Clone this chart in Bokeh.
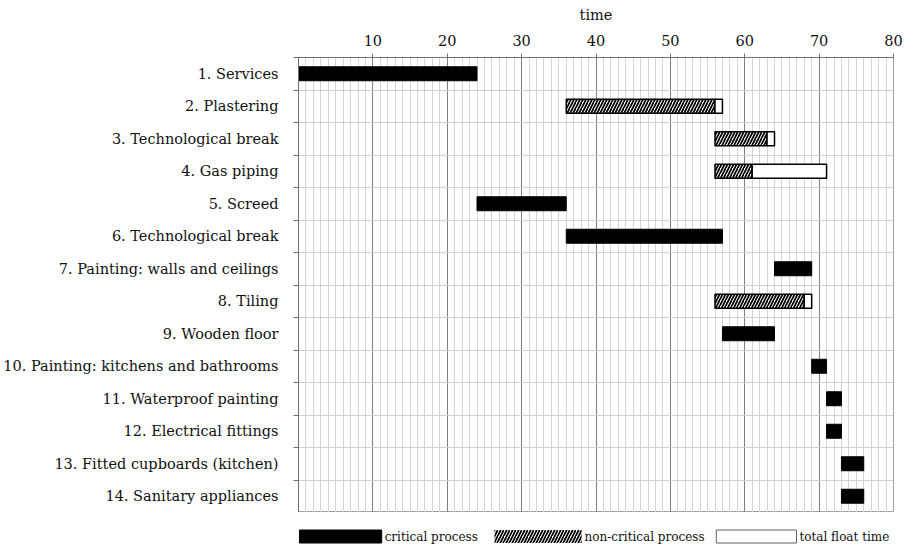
from bokeh.plotting import figure
from bokeh.models import Range1d, FixedTicker
from bokeh.layouts import column
from bokeh.core.properties import value
from bokeh.embed import file_html
from bokeh.resources import INLINE

# ---- data ----
tasks = [
    "1. Services",
    "2. Plastering",
    "3. Technological break",
    "4. Gas piping",
    "5. Screed",
    "6. Technological break",
    "7. Painting: walls and ceilings",
    "8. Tiling",
    "9. Wooden floor",
    "10. Painting: kitchens and bathrooms",
    "11. Waterproof painting",
    "12. Electrical fittings",
    "13. Fitted cupboards (kitchen)",
    "14. Sanitary appliances",
]
start = [0, 36, 56, 56, 24, 36, 64, 56, 57, 69, 71, 71, 73, 73]
duration = [24, 20, 7, 5, 12, 21, 5, 12, 7, 2, 2, 2, 3, 3]
is_critical = [True, False, False, False, True, True, True, False, True, True, True, True, True, True]
total_float = [0, 1, 1, 10, 0, 0, 0, 1, 0, 0, 0, 0, 0, 0]
x_ticks = [10, 20, 30, 40, 50, 60, 70, 80]
legend_labels = ["critical process", "non-critical process", "total float time"]

FONT = "DejaVu Serif"
FS = "14.5px"
TXT = "#111111"
rows = list(range(1, len(tasks) + 1))
end = [s + d for s, d in zip(start, duration)]

crit = {"y": [], "left": [], "right": []}
noncrit = {"y": [], "left": [], "right": []}
flt = {"y": [], "left": [], "right": []}
for r, s, e, c, f in zip(rows, start, end, is_critical, total_float):
    target = crit if c else noncrit
    target["y"].append(r); target["left"].append(s); target["right"].append(e)
    if f > 0:
        flt["y"].append(r); flt["left"].append(e); flt["right"].append(e + f)

BL, BR = 292, 10
p = figure(width=903, height=512, x_range=Range1d(0, 80), y_range=Range1d(14.5, 0.5),
           x_axis_location="above", output_backend="svg", toolbar_location=None,
           min_border_left=BL, min_border_right=BR, min_border_top=57, min_border_bottom=0)
p.outline_line_color = "#a0a0a0"
p.background_fill_color = "white"

# x axis
xa = p.xaxis[0]
xa.ticker = FixedTicker(ticks=x_ticks)
xa.axis_label = "time"
xa.axis_label_text_font = FONT
xa.axis_label_text_font_size = FS
xa.axis_label_text_font_style = "normal"
xa.axis_label_text_color = TXT
xa.axis_label_standoff = 9
xa.major_label_text_font = FONT
xa.major_label_text_font_size = FS
xa.major_label_text_color = TXT
xa.major_label_standoff = 8
xa.axis_line_color = "#707070"
xa.major_tick_line_color = "#707070"
xa.major_tick_out = 4
xa.major_tick_in = 0
xa.minor_tick_out = 0
xa.minor_tick_in = 0

# y axis
ya = p.yaxis[0]
ya.ticker = FixedTicker(ticks=rows, minor_ticks=[r - 0.5 for r in rows] + [rows[-1] + 0.5])
ya.major_label_overrides = {r: t for r, t in zip(rows, tasks)}
ya.major_label_text_font = FONT
ya.major_label_text_font_size = FS
ya.major_label_text_color = TXT
ya.major_label_standoff = 15
ya.major_tick_out = 0
ya.major_tick_in = 0
ya.minor_tick_out = 5
ya.minor_tick_in = 0
ya.minor_tick_line_color = "#707070"
ya.axis_line_color = "#707070"

# grids
p.xgrid.ticker = FixedTicker(ticks=list(range(0, 81, 10)), minor_ticks=list(range(0, 81)))
p.xgrid.grid_line_color = "#808080"
p.xgrid.grid_line_width = 1
p.xgrid.minor_grid_line_color = "#d4d4d4"
p.ygrid.ticker = FixedTicker(ticks=[r + 0.5 for r in rows[:-1]])
p.ygrid.grid_line_color = "#d0d0d0"

H = 0.43
HATCH = dict(hatch_pattern="right_diagonal_line", hatch_color="black", hatch_scale=6, hatch_weight=1.7)
p.hbar(y="y", left="left", right="right", height=H, source=crit,
       fill_color="black", line_color="black", line_width=1)
p.hbar(y="y", left="left", right="right", height=H, source=noncrit,
       fill_color="white", line_color="black", line_width=1.5, **HATCH)
p.hbar(y="y", left="left", right="right", height=H, source=flt,
       fill_color="white", line_color="black", line_width=1.5)

# legend strip: second figure, same side borders; coordinates are pixels of its frame
FW = 903 - BL - BR
lg = figure(width=903, height=32, x_range=Range1d(0, FW), y_range=Range1d(0, 32),
            output_backend="svg", toolbar_location=None,
            min_border_left=BL, min_border_right=BR, min_border_top=0, min_border_bottom=0)
lg.axis.visible = False
lg.grid.visible = False
lg.outline_line_color = None
yc = 8
lg.quad(left=[1], right=[84], bottom=[yc - 6.5], top=[yc + 6.5],
        fill_color="black", line_color="black")
lg.quad(left=[198], right=[286], bottom=[yc - 6.5], top=[yc + 6.5],
        fill_color="white", line_color=None, **HATCH)
lg.quad(left=[422], right=[503], bottom=[yc - 6.5], top=[yc + 6.5],
        fill_color="white", line_color="#606060", line_width=1)
lg.text(x=[87, 289, 506], y=[yc] * 3, text=legend_labels,
        text_baseline="middle", text_align="left",
        text_font=value(FONT), text_font_size="12px", text_color=TXT)

layout = column(p, lg, spacing=0)
open("out.html", "w").write(file_html(layout, INLINE))
